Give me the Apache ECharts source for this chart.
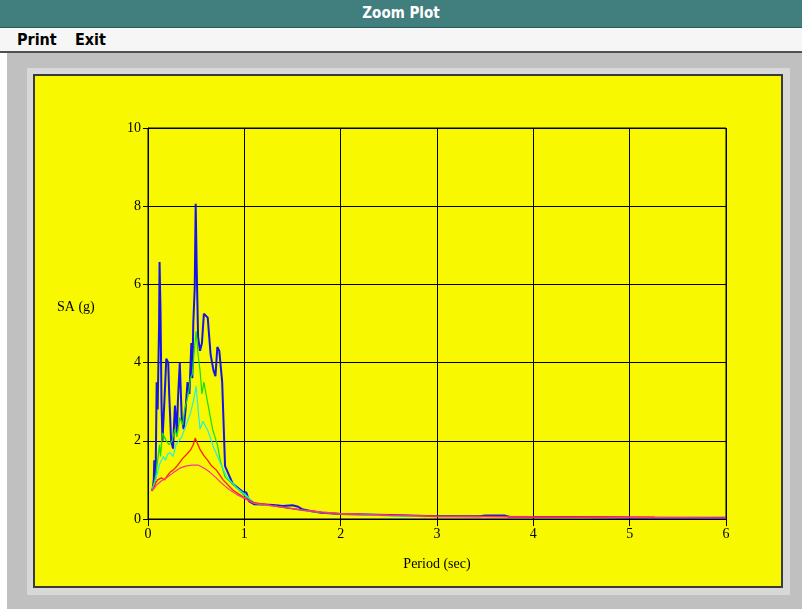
<!DOCTYPE html>
<html>
<head>
<meta charset="UTF-8"/>
<title>Zoom Plot</title>
<script src="https://cdn.jsdelivr.net/npm/echarts@6/dist/echarts.min.js"></script>
<style>
  body { margin:0; width:802px; height:609px; overflow:hidden; background:#ffffff; position:relative; font-family:"Liberation Sans", Arial, sans-serif; }
  .titlebar { position:absolute; left:0; top:0; width:802px; height:27px; background:#417f7f; border-bottom:1px solid #2b5c5c;
              color:#fff; font-weight:bold; font-size:15px; text-align:center; line-height:27px; font-family:"DejaVu Sans Condensed", "Liberation Sans", sans-serif; }
  .menubar { position:absolute; left:0; top:28px; width:802px; height:23px; background:#f6f6f6; border-bottom:2px solid #505050; }
  .menubar span { position:absolute; top:2px; font-size:16px; font-weight:bold; color:#000; font-family:"DejaVu Sans Condensed", "Liberation Sans", sans-serif; }
  .desk { position:absolute; left:7px; top:53px; width:795px; height:556px; background:#c0c0c0; }
  .bevel { position:absolute; left:27px; top:68px; width:763px; height:527px; background:#d8d8d8; }
  .panel { position:absolute; left:33px; top:74px; width:746px; height:510px; background:#f8f800; border:2px solid #3a3a3a; }
  #placeholder { position:absolute; left:0; top:0; width:802px; height:609px; }
</style>
</head>
<body>
<div class="titlebar">Zoom Plot</div>
<div class="menubar"><span style="left:17px;">Print</span><span style="left:75px;">Exit</span></div>
<div class="desk"></div>
<div class="bevel"></div>
<div class="panel"></div>
<div id="placeholder"></div>
<script type="text/javascript">
// tick labels
var xTicks = [0, 1, 2, 3, 4, 5, 6];
var yTicks = [0, 2, 4, 6, 8, 10];

// period (sec) / SA (g) per curve
var blueT  = [0.04,0.05,0.06,0.065,0.07,0.08,0.09,0.10,0.115,0.12,0.13,0.14,0.15,0.17,0.19,0.21,0.22,0.24,0.26,0.27,0.28,0.30,0.31,0.33,0.35,0.37,0.39,0.41,0.43,0.45,0.46,0.47,0.485,0.495,0.505,0.51,0.52,0.54,0.56,0.58,0.62,0.65,0.68,0.70,0.72,0.74,0.77,0.80,0.88,0.98,1.02,1.05,1.10,1.2,1.3,1.4,1.5,1.55,1.6,1.7,1.8,2.0,2.5,3.0,3.45,3.5,3.7,3.75,4.5,5.0,6.0];
var blueSA = [0.72,0.8,1.0,1.5,0.9,1.3,3.5,2.8,4.96,6.57,5.3,3.0,2.0,3.0,4.1,4.0,3.2,2.0,1.8,2.4,2.9,2.2,3.0,4.0,2.6,2.3,2.8,3.5,3.2,4.5,3.6,5.0,5.9,8.06,6.5,5.86,4.65,4.3,4.5,5.25,5.15,4.2,3.8,3.65,4.4,4.3,3.5,1.35,0.9,0.7,0.68,0.45,0.38,0.37,0.36,0.33,0.35,0.32,0.25,0.2,0.16,0.13,0.1,0.07,0.07,0.09,0.09,0.06,0.05,0.04,0.03];

var greenT  = [0.04,0.06,0.08,0.10,0.12,0.13,0.15,0.17,0.19,0.22,0.25,0.28,0.30,0.33,0.36,0.38,0.40,0.42,0.44,0.46,0.48,0.50,0.52,0.54,0.56,0.58,0.61,0.64,0.67,0.72,0.75,0.80,0.92,1.0,1.1,1.2,1.4,1.6,1.8,2.0,2.4,2.9];
var greenSA = [0.75,0.9,1.1,1.5,1.9,1.6,2.2,2.1,2.0,1.9,2.0,2.3,2.1,2.6,2.4,2.8,3.0,3.2,3.6,3.7,4.3,4.8,4.2,3.8,3.2,3.5,3.1,2.7,2.3,1.9,1.5,1.07,0.8,0.6,0.4,0.36,0.3,0.22,0.17,0.13,0.09,0.06];

var cyanT  = [0.04,0.06,0.08,0.10,0.12,0.14,0.16,0.18,0.20,0.23,0.26,0.29,0.32,0.35,0.38,0.41,0.44,0.47,0.50,0.52,0.54,0.57,0.62,0.68,0.75,0.82,0.92,1.02,1.1,1.2,1.4,1.6,1.8,2.0,2.4,2.9];
var cyanSA = [0.75,0.85,1.0,1.2,1.4,1.45,1.6,1.5,1.65,1.7,1.6,1.9,2.0,2.1,2.3,2.5,2.7,3.0,3.4,2.8,2.3,2.5,2.27,1.84,1.43,1.07,0.8,0.6,0.42,0.37,0.3,0.22,0.17,0.13,0.09,0.06];

var redT  = [0.04,0.06,0.08,0.10,0.12,0.14,0.17,0.20,0.23,0.26,0.30,0.33,0.36,0.40,0.44,0.47,0.49,0.51,0.54,0.58,0.62,0.66,0.71,0.78,0.88,0.99,1.1,1.2,1.4,1.6,1.8,2.0,2.5,3.0,4.0,5.26];
var redSA = [0.72,0.8,0.92,1.0,0.95,1.05,1.0,1.1,1.2,1.25,1.35,1.45,1.55,1.65,1.76,1.9,2.07,1.95,1.78,1.62,1.5,1.36,1.25,1.0,0.74,0.56,0.42,0.38,0.3,0.23,0.17,0.13,0.1,0.07,0.06,0.05];

var magentaT  = [0.04,0.07,0.09,0.14,0.20,0.26,0.33,0.40,0.46,0.52,0.56,0.60,0.64,0.70,0.75,0.80,0.85,0.92,0.99,1.09,1.2,1.4,1.6,1.8,2.0,2.5,3.0,4.0,5.0,6.0];
var magentaSA = [0.72,0.8,0.87,0.98,1.07,1.18,1.3,1.36,1.38,1.38,1.33,1.27,1.2,1.07,0.95,0.84,0.74,0.63,0.54,0.41,0.37,0.3,0.23,0.18,0.14,0.1,0.07,0.05,0.04,0.03];

function pairs(t, v) {
  var out = [];
  for (var i = 0; i < t.length; i++) out.push([t[i], v[i]]);
  return out;
}

var serif = '"Liberation Serif", "Times New Roman", serif';
var myChart = echarts.init(document.getElementById('placeholder'), null, { renderer: 'canvas' });
var option = {
  animation: false,
  backgroundColor: 'transparent',
  grid: { left: 148, top: 128, width: 578, height: 391, show: true, borderColor: '#000', borderWidth: 1, backgroundColor: 'transparent' },
  graphic: [
    { type: 'text', left: 57, top: 300, style: { text: 'SA (g)', font: '14px ' + serif, fill: '#000' } }
  ],
  xAxis: {
    type: 'value', min: xTicks[0], max: xTicks[xTicks.length - 1], interval: 1,
    name: 'Period (sec)', nameLocation: 'middle', nameGap: 38,
    nameTextStyle: { fontFamily: serif, fontSize: 14, color: '#000' },
    axisLine: { show: true, lineStyle: { color: '#000', width: 1 } },
    axisTick: { show: true, length: 7, lineStyle: { color: '#000' } },
    axisLabel: { fontFamily: serif, fontSize: 14, color: '#000', margin: 8 },
    splitLine: { show: true, lineStyle: { color: '#000', width: 1 } }
  },
  yAxis: {
    type: 'value', min: yTicks[0], max: yTicks[yTicks.length - 1], interval: 2,
    axisLine: { show: true, lineStyle: { color: '#000', width: 1 } },
    axisTick: { show: true, length: 5, lineStyle: { color: '#000' } },
    axisLabel: { fontFamily: serif, fontSize: 14, color: '#000', margin: 7 },
    splitLine: { show: true, lineStyle: { color: '#000', width: 1 } }
  },
  series: [
    { name: 'blue', type: 'line', showSymbol: false, data: pairs(blueT, blueSA), lineStyle: { color: '#1414e6', width: 2 } },
    { name: 'green', type: 'line', showSymbol: false, data: pairs(greenT, greenSA), lineStyle: { color: '#10e010', width: 1.2 } },
    { name: 'cyan', type: 'line', showSymbol: false, data: pairs(cyanT, cyanSA), lineStyle: { color: '#20f0e0', width: 1.2 } },
    { name: 'red', type: 'line', showSymbol: false, data: pairs(redT, redSA), lineStyle: { color: '#ff2000', width: 1.3 } },
    { name: 'magenta', type: 'line', showSymbol: false, data: pairs(magentaT, magentaSA), lineStyle: { color: '#ff30a0', width: 1.2 } }
  ]
};
myChart.setOption(option, true);
</script>
</body>
</html>
